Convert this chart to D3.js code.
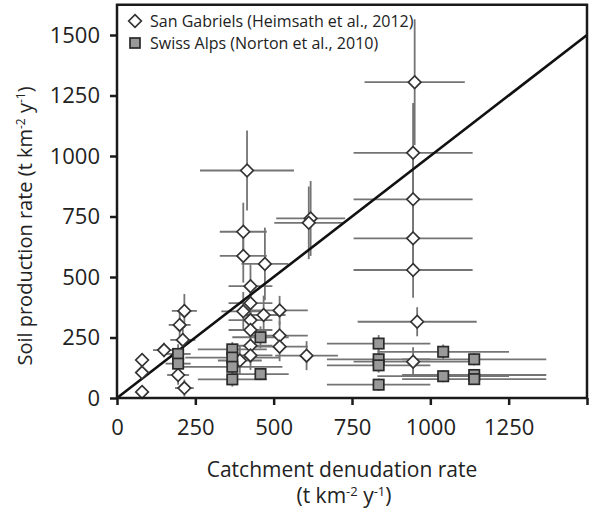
<!DOCTYPE html>
<html>
<head>
<meta charset="utf-8">
<script src="https://cdn.jsdelivr.net/npm/d3@7"></script>
<style>
  body { margin: 0; background: #fff; }
  text { font-family: "Open Sans", "Noto Sans", sans-serif; fill: #222; }
</style>
</head>
<body>
<script>
// San Gabriels (Heimsath et al., 2012)
var sgX    = [80, 80, 80, 150, 215, 200, 210, 195, 215, 415, 403, 403, 472, 426, 426, 403, 468, 519, 426, 426, 519, 519, 426, 426, 392, 618, 612, 605, 950, 945, 945, 945, 945, 958, 945];
var sgY    = [157, 105, 25, 198, 360, 302, 240, 95, 41, 940, 687, 587, 554, 462, 392, 358, 343, 362, 322, 281, 258, 212, 216, 176, 155, 742, 724, 175, 1305, 1013, 821, 660, 529, 315, 150];
var sgXErr = [20, 20, 15, 35, 40, 35, 40, 35, 30, 150, 75, 75, 75, 70, 70, 70, 70, 90, 70, 70, 90, 90, 70, 70, 70, 110, 110, 100, 160, 190, 190, 190, 190, 190, 190];
var sgYErr = [25, 30, 20, 30, 70, 50, 50, 40, 35, 165, 120, 110, 150, 90, 80, 80, 80, 60, 70, 70, 60, 60, 70, 60, 60, 155, 150, 60, 260, 206, 180, 160, 115, 60, 60];

// Swiss Alps (Norton et al., 2010)
var saX    = [195, 195, 368, 368, 368, 368, 458, 458, 835, 835, 835, 835, 1041, 1041, 1140, 1140, 1140];
var saY    = [182, 142, 201, 167, 129, 77, 251, 99, 225, 160, 135, 55, 191, 90, 160, 95, 78];
var saXErr = [40, 40, 110, 150, 160, 110, 90, 90, 165, 165, 165, 165, 210, 210, 230, 230, 230];
var saYErr = [40, 40, 30, 30, 30, 30, 45, 25, 35, 40, 30, 25, 30, 25, 25, 25, 20];

var tickVals = [0, 250, 500, 750, 1000, 1250, 1500];
var oneToOne = [0, 1500];
var yTop = 1625;

var width = 595,
  height = 512;

var svg = d3.select('body')
  .append('svg')
  .attr('width', width)
  .attr('height', height);

var x = d3.scaleLinear().domain([0, 1500]).range([117, 587]);
var y = d3.scaleLinear().domain([0, 1500]).range([398, 35]);

var sg = sgX.map(function(v, i) {
  return { x: v, y: sgY[i], xe: sgXErr[i], ye: sgYErr[i] };
});
var sa = saX.map(function(v, i) {
  return { x: v, y: saY[i], xe: saXErr[i], ye: saYErr[i] };
});
var all = sg.concat(sa);

// error bars first
var bars = svg.append('g')
  .attr('stroke', '#747474')
  .attr('stroke-width', 1.8);

bars.selectAll('.hbar')
  .data(all)
  .enter()
  .append('line')
  .attr('x1', function(d) { return x(d.x - d.xe); })
  .attr('x2', function(d) { return x(d.x + d.xe); })
  .attr('y1', function(d) { return y(d.y); })
  .attr('y2', function(d) { return y(d.y); });

bars.selectAll('.vbar')
  .data(all)
  .enter()
  .append('line')
  .attr('x1', function(d) { return x(d.x); })
  .attr('x2', function(d) { return x(d.x); })
  .attr('y1', function(d) { return y(Math.max(0, d.y - d.ye)); })
  .attr('y2', function(d) { return y(d.y + d.ye); });

// 1:1 line
svg.append('line')
  .attr('x1', x(oneToOne[0]))
  .attr('y1', y(oneToOne[0]))
  .attr('x2', x(oneToOne[1]))
  .attr('y2', y(oneToOne[1]))
  .attr('stroke', '#111')
  .attr('stroke-width', 2.6);

var diamond = 'M0,-6.3L6.3,0L0,6.3L-6.3,0Z';

svg.append('g').selectAll('path')
  .data(sg)
  .enter()
  .append('path')
  .attr('d', diamond)
  .attr('transform', function(d) { return 'translate(' + x(d.x) + ',' + y(d.y) + ')'; })
  .attr('fill', '#fff')
  .attr('stroke', '#333')
  .attr('stroke-width', 1.7);

svg.append('g').selectAll('rect')
  .data(sa)
  .enter()
  .append('rect')
  .attr('x', function(d) { return x(d.x) - 5.2; })
  .attr('y', function(d) { return y(d.y) - 5.2; })
  .attr('width', 10.4)
  .attr('height', 10.4)
  .attr('fill', '#999')
  .attr('stroke', '#2a2a2a')
  .attr('stroke-width', 1.7);

// frame
svg.append('path')
  .attr('d', 'M' + x(0) + ',' + y(yTop) + 'H' + x(1500) + 'V' + y(0) + 'H' + x(0) + 'Z')
  .attr('fill', 'none')
  .attr('stroke', '#1a1a1a')
  .attr('stroke-width', 2.5);

// axes
var fmt = d3.format('d');

var xAxis = svg.append('g')
  .attr('transform', 'translate(0,' + y(0) + ')')
  .call(d3.axisBottom(x).tickValues(tickVals).tickSize(7).tickSizeOuter(0).tickPadding(14)
    .tickFormat(function(d) { return d === 1500 ? '' : fmt(d); }));

var yAxis = svg.append('g')
  .attr('transform', 'translate(' + x(0) + ',0)')
  .call(d3.axisLeft(y).tickValues(tickVals).tickSize(7).tickSizeOuter(0).tickPadding(10)
    .tickFormat(fmt));

[xAxis, yAxis].forEach(function(a) {
  a.select('.domain').remove();
  a.selectAll('line').attr('stroke', '#1a1a1a').attr('stroke-width', 2.5);
  a.selectAll('text').attr('font-size', 22).attr('fill', '#222')
    .attr('font-family', '"Open Sans", sans-serif');
});

// axis titles
svg.append('text')
  .attr('x', 342)
  .attr('y', 477)
  .attr('text-anchor', 'middle')
  .attr('font-size', 21)
  .text('Catchment denudation rate');

var xt2 = svg.append('text')
  .attr('x', 344)
  .attr('y', 503)
  .attr('text-anchor', 'middle')
  .attr('font-size', 21);
xt2.append('tspan').text('(t km');
xt2.append('tspan').attr('dy', -7).attr('font-size', 13).text('-2');
xt2.append('tspan').attr('dy', 7).text(' y');
xt2.append('tspan').attr('dy', -7).attr('font-size', 13).text('-1');
xt2.append('tspan').attr('dy', 7).text(')');

var yt = svg.append('text')
  .attr('transform', 'translate(32,226) rotate(-90)')
  .attr('text-anchor', 'middle')
  .attr('font-size', 20);
yt.append('tspan').text('Soil production rate (t km');
yt.append('tspan').attr('dy', -7).attr('font-size', 12).text('-2');
yt.append('tspan').attr('dy', 7).text(' y');
yt.append('tspan').attr('dy', -7).attr('font-size', 12).text('-1');
yt.append('tspan').attr('dy', 7).text(')');

// legend
var legend = svg.append('g');
legend.append('path')
  .attr('d', diamond)
  .attr('transform', 'translate(135,21)')
  .attr('fill', '#fff')
  .attr('stroke', '#333')
  .attr('stroke-width', 1.7);
legend.append('text')
  .attr('x', 150)
  .attr('y', 27)
  .attr('font-size', 16)
  .text('San Gabriels (Heimsath et al., 2012)');
legend.append('rect')
  .attr('x', 130)
  .attr('y', 38)
  .attr('width', 10)
  .attr('height', 10)
  .attr('fill', '#999')
  .attr('stroke', '#2a2a2a')
  .attr('stroke-width', 1.7);
legend.append('text')
  .attr('x', 150)
  .attr('y', 49)
  .attr('font-size', 16)
  .text('Swiss Alps (Norton et al., 2010)');
</script>
</body>
</html>
